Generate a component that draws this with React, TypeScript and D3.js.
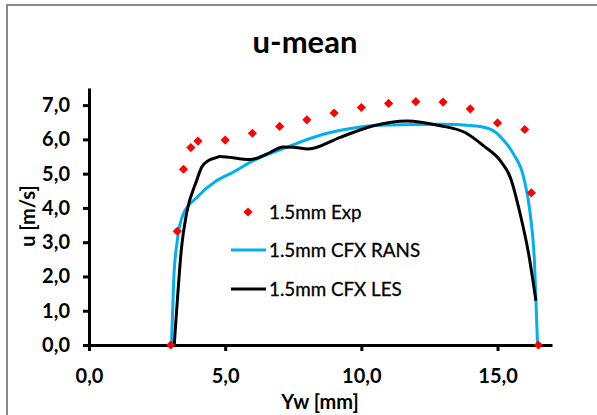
import React, { useRef, useEffect } from "react";
import * as d3 from "d3";

// Experimental points (red diamonds)
const expYw = [3.0, 3.24, 3.47, 3.74, 4.0, 5.0, 6.0, 7.0, 8.0, 9.0, 10.0, 11.0, 12.0, 13.0, 14.0, 15.0, 16.0, 16.24, 16.5];
const expU = [0, 3.32, 5.13, 5.76, 5.95, 5.98, 6.18, 6.38, 6.57, 6.77, 6.93, 7.05, 7.1, 7.09, 6.89, 6.48, 6.29, 4.44, 0];

// CFX RANS (blue)
const ransYw = [3.03, 3.11, 3.24, 3.46, 3.95, 4.68, 5.29, 6.03, 7.26, 8.6, 9.83, 11.05, 12.9, 14.1, 14.73, 15.2, 15.59, 15.96, 16.2, 16.36, 16.47];
const ransU = [0, 1.89, 3.04, 3.82, 4.3, 4.79, 5.04, 5.38, 5.77, 6.15, 6.35, 6.42, 6.44, 6.4, 6.3, 6.0, 5.57, 4.89, 3.83, 2.37, 0];

// CFX LES (black)
const lesYw = [3.13, 3.21, 3.4, 3.58, 3.95, 4.13, 4.38, 4.68, 4.8, 5.91, 6.52, 7.13, 7.5, 8.05, 9.22, 10.44, 11.67, 12.9, 13.81, 14.49, 15.1, 15.47, 15.83, 16.14, 16.41];
const lesU = [0, 0.92, 2.86, 3.83, 4.79, 5.18, 5.38, 5.47, 5.5, 5.41, 5.57, 5.78, 5.77, 5.72, 6.06, 6.4, 6.54, 6.4, 6.2, 5.81, 5.38, 4.89, 3.83, 2.67, 1.29];

const xTicks = [0, 5, 10, 15];
const yTicks = [0, 1, 2, 3, 4, 5, 6, 7];

const seriesNames = ["1.5mm Exp", "1.5mm CFX RANS", "1.5mm CFX LES"];
const chartTitle = "u-mean";
const xTitle = "Yw [mm]";
const yTitle = "u [m/s]";

const W = 597;
const H = 415;
const FONT = "Lato, 'Open Sans', sans-serif";
const BLUE = "#00B0F0";
const RED = "#FF0000";

const fmt = (v: number) => d3.format(".1f")(v).replace(".", ",");

const App = () => {
  const svgRef = useRef<SVGSVGElement | null>(null);

  useEffect(() => {
    const svg = d3.select(svgRef.current);
    svg.selectAll("*").remove();

    const x = d3.scaleLinear().domain([0, 17]).range([89, 552]);
    const y = d3.scaleLinear().domain([0, 7.5]).range([345, 88]);

    // outer frame (right/bottom edges run off the picture)
    svg.append("rect")
      .attr("x", 7).attr("y", 5)
      .attr("width", W + 20).attr("height", H + 20)
      .attr("fill", "#fff")
      .attr("stroke", "#898989")
      .attr("stroke-width", 2);

    // title
    svg.append("text")
      .attr("x", 305).attr("y", 53)
      .attr("text-anchor", "middle")
      .attr("font-family", FONT)
      .attr("font-weight", "bold")
      .attr("font-size", 31)
      .text(chartTitle);

    // axes
    const yAxis = svg.append("g")
      .attr("transform", `translate(${x(0)},0)`)
      .call(d3.axisLeft(y).tickValues(yTicks).tickFormat(d => fmt(+d)).tickSize(6).tickSizeOuter(0).tickPadding(13));
    const xAxis = svg.append("g")
      .attr("transform", `translate(0,${y(0)})`)
      .call(d3.axisBottom(x).tickValues(xTicks).tickFormat(d => fmt(+d)).tickSize(6).tickSizeOuter(0).tickPadding(18));

    [yAxis, xAxis].forEach(g => {
      g.select(".domain").attr("stroke", "#000").attr("stroke-width", 3);
      g.selectAll(".tick line").attr("stroke", "#000").attr("stroke-width", 3);
      g.selectAll(".tick text")
        .attr("fill", "#000")
        .attr("font-family", FONT)
        .attr("font-weight", "bold")
        .attr("font-size", 20);
    });

    // axis titles
    svg.append("text")
      .attr("x", 320).attr("y", 409)
      .attr("text-anchor", "middle")
      .attr("font-family", FONT)
      .attr("font-weight", "bold")
      .attr("font-size", 20)
      .text(xTitle);
    svg.append("text")
      .attr("transform", `translate(35,216) rotate(-90)`)
      .attr("text-anchor", "middle")
      .attr("font-family", FONT)
      .attr("font-weight", "bold")
      .attr("font-size", 20)
      .text(yTitle);

    // lines
    const line = d3.line<[number, number]>()
      .x(d => x(d[0]))
      .y(d => y(d[1]))
      .curve(d3.curveMonotoneX);

    svg.append("path")
      .datum(ransYw.map((v, i) => [v, ransU[i]] as [number, number]))
      .attr("d", line)
      .attr("fill", "none")
      .attr("stroke", BLUE)
      .attr("stroke-width", 3)
      .attr("stroke-linejoin", "round");

    svg.append("path")
      .datum(lesYw.map((v, i) => [v, lesU[i]] as [number, number]))
      .attr("d", line)
      .attr("fill", "none")
      .attr("stroke", "#000")
      .attr("stroke-width", 3)
      .attr("stroke-linejoin", "round");

    // diamonds
    const diamond = d3.symbol().type(d3.symbolSquare).size(42);
    svg.append("g")
      .selectAll("path")
      .data(expYw.map((v, i) => [v, expU[i]]))
      .enter()
      .append("path")
      .attr("d", diamond)
      .attr("transform", d => `translate(${x(d[0])},${y(d[1])}) rotate(45)`)
      .attr("fill", RED);

    // legend
    const lg = svg.append("g").attr("font-family", FONT).attr("font-size", 18.8);
    const rowY = [212, 250, 289];
    lg.append("path")
      .attr("d", diamond)
      .attr("transform", `translate(248,${rowY[0]}) rotate(45)`)
      .attr("fill", RED);
    lg.append("line")
      .attr("x1", 231).attr("x2", 266).attr("y1", rowY[1]).attr("y2", rowY[1])
      .attr("stroke", BLUE).attr("stroke-width", 3);
    lg.append("line")
      .attr("x1", 231).attr("x2", 266).attr("y1", rowY[2]).attr("y2", rowY[2])
      .attr("stroke", "#000").attr("stroke-width", 3);
    seriesNames.forEach((name, i) => {
      lg.append("text")
        .attr("x", 269)
        .attr("y", rowY[i] + 7)
        .attr("fill", "#000")
        .attr("stroke", "#000")
        .attr("stroke-width", 0.3)
        .text(name);
    });
  }, []);

  return (
    <svg
      ref={svgRef}
      width={W}
      height={H}
      style={{ position: "absolute", left: 0, top: 0, background: "#fff" }}
    />
  );
};

export default App;
